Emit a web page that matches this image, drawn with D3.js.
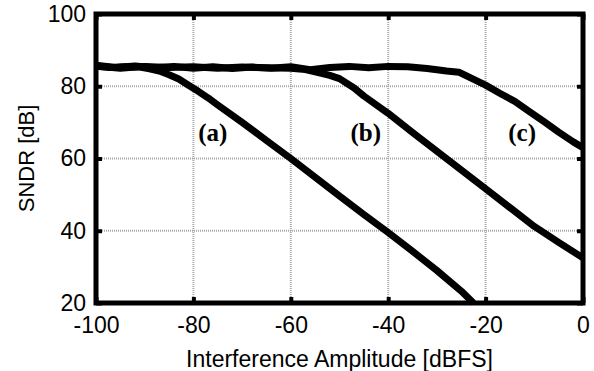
<!DOCTYPE html>
<html>
<head>
<meta charset="utf-8">
<script src="https://cdn.jsdelivr.net/npm/d3@7"></script>
<style>
  body { margin: 0; background: #fff; }
  svg { display: block; }
</style>
</head>
<body>
<div id="chart"></div>
<script>
// interference amplitude (dBFS) and SNDR (dB) for the three curves
const ampA = [-100, -97, -94, -91, -89, -87, -85, -83, -81, -79, -77, -75, -70, -65, -60, -55, -50, -45, -40, -35, -30, -25, -22.5];
const sndrA = [85.5, 85.2, 85.4, 85.3, 84.8, 84.2, 83.2, 82, 80.3, 78.6, 76.8, 74.8, 70, 65, 60, 54.8, 49.6, 44.5, 39.5, 34.3, 29, 23.3, 20];
const ampB = [-100, -95, -90, -85, -80, -75, -70, -65, -60, -57, -55, -52, -50, -47, -45, -40, -35, -30, -25, -20, -15, -10, -5, 0];
const sndrB = [85.6, 85, 85.5, 85.2, 85.4, 85, 85.3, 85.1, 85, 84.6, 84, 83, 82.1, 79.5, 77.3, 72.5, 67.2, 62, 56.8, 51.6, 46.4, 41.2, 36.8, 32.5];
const ampC = [-100, -96, -92, -88, -84, -80, -76, -72, -68, -64, -60, -56, -52, -48, -44, -40, -36, -32, -28, -25.5, -22, -20, -17, -14, -11, -8, -5, -2, 0];
const sndrC = [85.8, 85.2, 85.6, 85.1, 85.5, 85, 85.4, 84.9, 85.3, 85, 85.4, 84.6, 85.2, 85.5, 85.1, 85.5, 85.4, 84.9, 84.2, 83.9, 81.6, 80.3, 78, 75.8, 73, 70.2, 67.3, 64.6, 63];
const curveLabels = ["(a)", "(b)", "(c)"];
const labelAt = [[-76, 64.8], [-44.6, 64.8], [-12.5, 64.8]];
const xTicks = [-100, -80, -60, -40, -20, 0];
const yTicks = [20, 40, 60, 80, 100];

const width = 594, height = 371;
const margin = { left: 96, right: 11, top: 14, bottom: 68 };

const svg = d3.select("#chart").append("svg")
  .attr("width", width)
  .attr("height", height);

const x = d3.scaleLinear().domain([-100, 0]).range([margin.left, width - margin.right]);
const y = d3.scaleLinear().domain([20, 100]).range([height - margin.bottom, margin.top]);

// grid
svg.append("g")
  .selectAll("line")
  .data(xTicks.slice(1, -1))
  .enter()
  .append("line")
  .attr("x1", d => x(d)).attr("x2", d => x(d))
  .attr("y1", y(20)).attr("y2", y(100))
  .attr("stroke", "#a8a8a8")
  .attr("stroke-width", 2)
  .attr("stroke-dasharray", "1,1");
svg.append("g")
  .selectAll("line")
  .data(yTicks.slice(1, -1))
  .enter()
  .append("line")
  .attr("x1", x(-100)).attr("x2", x(0))
  .attr("y1", d => y(d)).attr("y2", d => y(d))
  .attr("stroke", "#a8a8a8")
  .attr("stroke-width", 2)
  .attr("stroke-dasharray", "1,1");

// inner tick marks, hyphen minus like the original
const fmt = d => String(d);
const xAxisB = svg.append("g")
  .attr("transform", "translate(0," + y(20) + ")")
  .call(d3.axisBottom(x).tickValues(xTicks).tickSizeInner(-6).tickSizeOuter(0).tickPadding(14).tickFormat(fmt));
const xAxisT = svg.append("g")
  .attr("transform", "translate(0," + y(100) + ")")
  .call(d3.axisTop(x).tickValues(xTicks).tickSizeInner(-6).tickSizeOuter(0).tickFormat(""));
const yAxisL = svg.append("g")
  .attr("transform", "translate(" + x(-100) + ",0)")
  .call(d3.axisLeft(y).tickValues(yTicks).tickSizeInner(-6).tickSizeOuter(0).tickPadding(10).tickFormat(fmt));
const yAxisR = svg.append("g")
  .attr("transform", "translate(" + x(0) + ",0)")
  .call(d3.axisRight(y).tickValues(yTicks).tickSizeInner(-6).tickSizeOuter(0).tickFormat(""));

[xAxisB, xAxisT, yAxisL, yAxisR].forEach(g => {
  g.select(".domain").remove();
  g.selectAll(".tick line").attr("stroke", "#000").attr("stroke-width", 4);
  g.selectAll("text")
    .attr("fill", "#000")
    .style("font-family", "Liberation Sans, Arial, sans-serif")
    .style("font-size", "23px");
});
xAxisB.selectAll("text").attr("dy", "0.7em");

// curves
const line = d3.line()
  .x(d => x(d[0]))
  .y(d => y(d[1]));
const series = [d3.zip(ampA, sndrA), d3.zip(ampB, sndrB), d3.zip(ampC, sndrC)];

svg.append("g")
  .selectAll("path")
  .data(series)
  .enter()
  .append("path")
  .attr("d", line)
  .attr("fill", "none")
  .attr("stroke", "#000")
  .attr("stroke-width", 7)
  .attr("stroke-linejoin", "round");

// frame
svg.append("rect")
  .attr("x", x(-100)).attr("y", y(100))
  .attr("width", x(0) - x(-100))
  .attr("height", y(20) - y(100))
  .attr("fill", "none")
  .attr("stroke", "#000")
  .attr("stroke-width", 5);

// curve labels
svg.append("g")
  .selectAll("text")
  .data(curveLabels)
  .enter()
  .append("text")
  .attr("x", (d, i) => x(labelAt[i][0]))
  .attr("y", (d, i) => y(labelAt[i][1]))
  .attr("text-anchor", "middle")
  .style("font-family", "Liberation Serif, Times New Roman, serif")
  .style("font-weight", "bold")
  .style("font-size", "25px")
  .text(d => d);

// axis titles
svg.append("text")
  .attr("x", (x(-100) + x(0)) / 2)
  .attr("y", 367)
  .attr("text-anchor", "middle")
  .style("font-family", "Liberation Sans, Arial, sans-serif")
  .style("font-size", "23px")
  .text("Interference Amplitude [dBFS]");

svg.append("text")
  .attr("transform", "translate(34," + y(60) + ") rotate(-90)")
  .attr("text-anchor", "middle")
  .style("font-family", "Liberation Sans, Arial, sans-serif")
  .style("font-size", "22px")
  .text("SNDR [dB]");
</script>
</body>
</html>
